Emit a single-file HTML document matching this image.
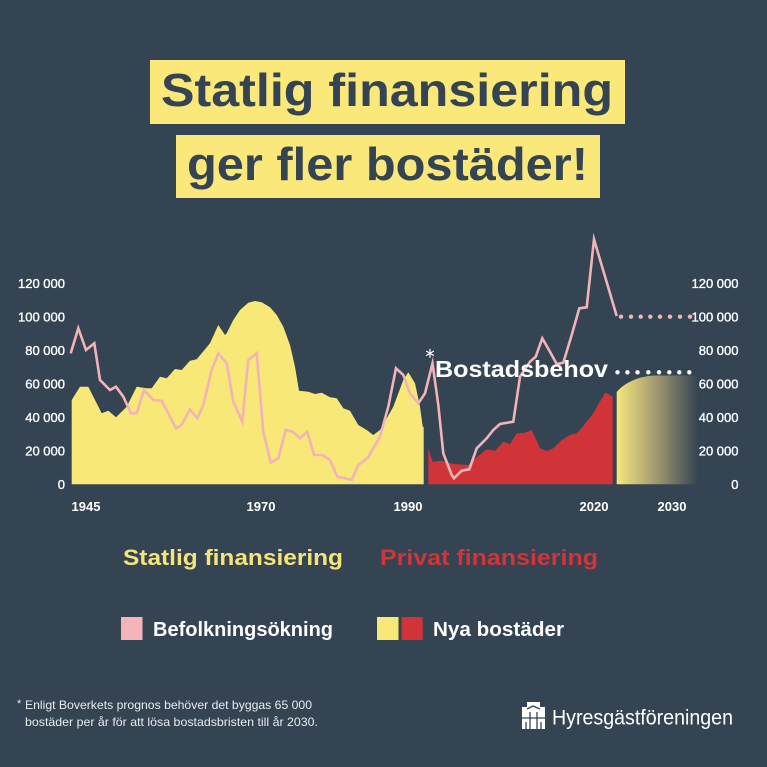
<!DOCTYPE html>
<html><head><meta charset="utf-8"><style>
html,body{margin:0;padding:0;background:#344452;}
svg{display:block;}
text{font-family:"Liberation Sans",sans-serif;}
</style></head><body>
<svg width="767" height="767" viewBox="0 0 767 767" xmlns="http://www.w3.org/2000/svg">
<defs>
<linearGradient id="fade" x1="617" y1="0" x2="698" y2="0" gradientUnits="userSpaceOnUse">
<stop offset="0" stop-color="#f6e77c"/>
<stop offset="0.5" stop-color="#9e9670"/>
<stop offset="1" stop-color="#344452"/>
</linearGradient>
</defs>
<rect width="767" height="767" fill="#344452"/>
<!-- Title -->
<rect x="150" y="60" width="475" height="64" fill="#fae97a"/>
<rect x="176" y="135" width="424" height="63" fill="#fae97a"/>
<text x="161" y="106" font-size="46" font-weight="bold" fill="#344452" textLength="452" lengthAdjust="spacingAndGlyphs">Statlig finansiering</text>
<text x="187" y="180" font-size="46" font-weight="bold" fill="#344452" textLength="401" lengthAdjust="spacingAndGlyphs">ger fler bostäder!</text>

<!-- Yellow area -->
<path fill="#f8e877" d="M71.7,484.3 L71.7,400 L80,386.7 L88.3,386.7 L101.7,413.3 L108.3,410.7 L116,417.3 L126.7,406.7 L136.7,386.7 L146.7,388.3 L151.7,388.3 L160,376.7 L166.7,378.3 L175,369 L181.7,370 L190,360.7 L196.7,359.3 L210,343.3 L218.3,325 L225,335 L226.7,333.3 L233.3,320 L240,310 L248.3,302.7 L255,301 L261.7,302.3 L270,307.3 L276.7,315 L283.3,326.7 L290,345 L295,366.7 L299,390.7 L308.3,391.7 L315,394 L321.7,392.7 L330,397.3 L336.7,398.3 L343.3,408.3 L350,410.7 L358.3,425 L366.7,430 L373.3,435 L380,430 L393.3,406.7 L403.3,380 L408.3,372.3 L415,383.3 L420,406.7 L422.7,426.7 L423.7,426.7 L423.7,484.3 Z"/>
<!-- Red area -->
<path fill="#d13438" d="M428.3,484.3 L428.3,448.3 L432.7,461.7 L441.7,460.7 L453.3,464 L468.3,465 L476.7,457.3 L486.7,449.3 L495,450.7 L503.3,441.7 L510,444 L516.7,433.3 L523.3,433.3 L531.7,430 L540,448.3 L546.7,451 L553.3,448.3 L561.7,440 L570,435 L576.7,433.3 L583.3,426 L593.3,413.3 L605,392.7 L608.3,394 L612.7,396.7 L612.7,484.3 Z"/>
<!-- Gradient forecast area -->
<path fill="url(#fade)" d="M616.7,484.3 L616.7,392 C625,382 640,376 655,375.5 L698,375.5 L698,484.3 Z"/>

<!-- Population line -->
<polyline fill="none" stroke="#f2b3b9" stroke-width="2.6" stroke-linejoin="miter" stroke-miterlimit="6" points="70.7,353.3 78.3,328.3 86,350 94.3,343.3 100,380 110,390 116,386.7 123.3,396.7 131,413.3 136.7,413.3 144,390 153.3,400 161.7,400.7 176,428.3 181.7,425 190,409.3 197.3,418.3 203.3,405 211.7,370 218.3,353.3 226.7,363.3 233.3,401.7 242.3,421.7 248.3,360 256.7,353.3 263.3,431.7 270.7,462.7 278.3,458.3 285.7,430 292.7,431.7 300,438.3 307.3,431.7 314,455 322.3,455 330,460 337.3,476.7 345,478.3 351.7,480 358.3,465 368,457.5 380,436.7 388.3,406.7 396,368.3 403.3,375 410,393.3 418.3,403.3 425,393.3 432.5,363.3 438.3,405 443.3,453.3 451.7,475 454,478.3 461.7,470.7 469.3,469.3 476.7,448.3 486.7,438.3 493.3,430 500,424 513.3,421.7 520,376.7 530,361.7 535.7,356.7 542.3,338.3 550,351.7 556.7,364 563.3,362.7 571.7,335 579.3,308.3 586.7,307.3 594,239.3 616.7,316"/>
<!-- Pink dots -->
<g fill="#f2b3b9">
<circle cx="621" cy="316.7" r="2.2"/><circle cx="631" cy="316.7" r="2.2"/><circle cx="640.7" cy="316.7" r="2.2"/><circle cx="650.3" cy="316.7" r="2.2"/><circle cx="660" cy="316.7" r="2.2"/><circle cx="670" cy="316.7" r="2.2"/><circle cx="680" cy="316.7" r="2.2"/><circle cx="690" cy="316.7" r="2.2"/>
</g>
<!-- White dots -->
<g fill="#ffffff">
<circle cx="617.5" cy="372.3" r="2.2"/><circle cx="627.5" cy="372.3" r="2.2"/><circle cx="637.5" cy="372.3" r="2.2"/><circle cx="648.3" cy="372.3" r="2.2"/><circle cx="659" cy="372.3" r="2.2"/><circle cx="669.3" cy="372.3" r="2.2"/><circle cx="679.3" cy="372.3" r="2.2"/><circle cx="689.3" cy="372.3" r="2.2"/>
</g>
<!-- Asterisk -->
<g stroke="#ffffff" stroke-width="1.2">
<line x1="430" y1="348.8" x2="430" y2="357.8"/>
<line x1="426.1" y1="351" x2="433.9" y2="355.6"/>
<line x1="426.1" y1="355.6" x2="433.9" y2="351"/>
</g>
<text x="435" y="377" font-size="23" font-weight="bold" fill="#ffffff" textLength="173" lengthAdjust="spacingAndGlyphs">Bostadsbehov</text>

<!-- Left axis labels -->
<g font-size="13" fill="#ffffff" text-anchor="end" stroke="#ffffff" stroke-width="0.35">
<text x="65" y="288">120 000</text>
<text x="65" y="321.4">100 000</text>
<text x="65" y="354.9">80 000</text>
<text x="65" y="388.4">60 000</text>
<text x="65" y="422">40 000</text>
<text x="65" y="455.5">20 000</text>
<text x="65" y="489">0</text>
</g>
<!-- Right axis labels -->
<g font-size="13" fill="#ffffff" text-anchor="end" stroke="#ffffff" stroke-width="0.35">
<text x="738.5" y="288">120 000</text>
<text x="738.5" y="321.4">100 000</text>
<text x="738.5" y="354.9">80 000</text>
<text x="738.5" y="388.4">60 000</text>
<text x="738.5" y="422">40 000</text>
<text x="738.5" y="455.5">20 000</text>
<text x="738.5" y="489">0</text>
</g>
<!-- X labels -->
<g font-size="13" font-weight="bold" fill="#ffffff" text-anchor="middle">
<text x="86" y="511">1945</text>
<text x="261" y="511">1970</text>
<text x="408" y="511">1990</text>
<text x="594" y="511">2020</text>
<text x="672" y="511">2030</text>
</g>

<!-- Legend headings -->
<text x="123" y="565" font-size="22" font-weight="bold" fill="#f5e47a" textLength="220" lengthAdjust="spacingAndGlyphs">Statlig finansiering</text>
<text x="380" y="565" font-size="22" font-weight="bold" fill="#d2343a" textLength="218" lengthAdjust="spacingAndGlyphs">Privat  finansiering</text>
<!-- Legend items -->
<rect x="121" y="617" width="21.5" height="23" fill="#f4b4ba"/>
<text x="153" y="636" font-size="20" font-weight="bold" fill="#ffffff" textLength="180" lengthAdjust="spacingAndGlyphs">Befolkningsökning</text>
<rect x="377" y="617" width="21.5" height="23" fill="#f8e877"/>
<rect x="401.7" y="617" width="21" height="23" fill="#d13438"/>
<text x="433" y="636" font-size="20" font-weight="bold" fill="#ffffff" textLength="131" lengthAdjust="spacingAndGlyphs">Nya bostäder</text>

<!-- Footnote -->
<text x="17" y="707" font-size="11" fill="#e8ecef">*</text>
<text x="25" y="709" font-size="12" fill="#e8ecef" textLength="287" lengthAdjust="spacingAndGlyphs">Enligt Boverkets prognos behöver det byggas 65 000</text>
<text x="25" y="726" font-size="12" fill="#e8ecef" textLength="293" lengthAdjust="spacingAndGlyphs">bostäder per år för att lösa bostadsbristen till år 2030.</text>

<!-- Logo -->
<g>
<rect x="522" y="707" width="23" height="22" fill="#ffffff"/>
<rect x="527" y="702" width="13" height="7" fill="#ffffff"/>
<g stroke="#344452" stroke-width="1.3" fill="none">
<line x1="530" y1="712" x2="530" y2="729"/>
<line x1="537" y1="712" x2="537" y2="729"/>
<line x1="522" y1="718" x2="545" y2="718"/>
<path d="M527,709 L533,706 L540,709"/>
<line x1="526" y1="722" x2="526" y2="729"/>
<line x1="541" y1="722" x2="541" y2="729"/>
</g>
</g>
<text x="552" y="724.5" font-size="21" fill="#ffffff" textLength="181" lengthAdjust="spacingAndGlyphs">Hyresgästföreningen</text>
</svg>
</body></html>
